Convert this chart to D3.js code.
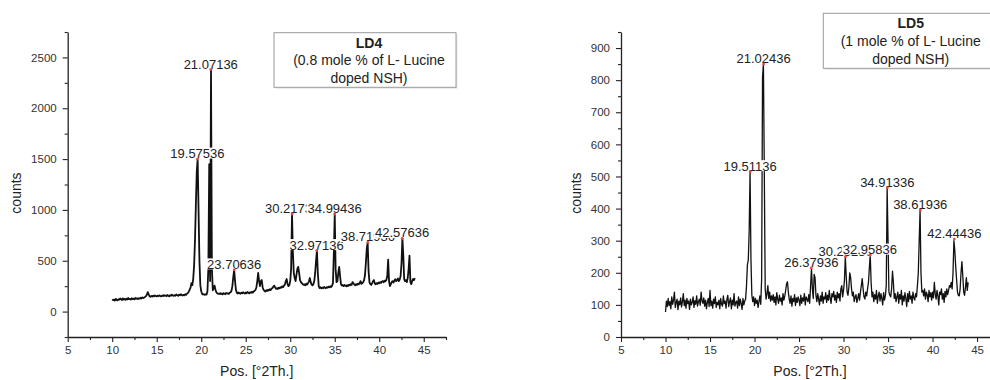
<!DOCTYPE html>
<html>
<head>
<meta charset="utf-8">
<script src="https://cdn.jsdelivr.net/npm/d3@7"></script>
<style>
  body { margin: 0; background: #fff; }
  svg { display: block; font-family: "Liberation Sans", Arial, sans-serif; }
</style>
</head>
<body>
<svg id="chart" width="990" height="380"></svg>
<script>
// scan grid (degrees 2theta), both samples were read on the same grid
const scanStart = 10.0;
const scanStep = 0.1;

// LD4 counts, 10.0 .. 44.0
const ld4Counts = [
  120,112,118,108,125,115,110,122,117,128,
  121,113,130,118,124,116,127,119,133,122,
  125,118,131,122,128,120,134,126,130,124,
  132,127,136,129,140,133,138,145,152,168,
  192,170,150,146,153,148,156,150,158,152,
  149,157,151,160,154,149,158,153,162,155,
  158,152,163,156,150,161,155,167,159,154,
  162,156,168,160,155,166,159,170,163,158,
  165,160,171,164,175,182,195,215,235,280,
  260,320,450,700,1050,1380,1500,1000,500,260,
  200,175,168,172,165,170,168,200,420,1450,
  300,2380,420,210,230,255,215,190,180,175,
  178,172,180,174,169,182,176,171,183,177,
  180,174,185,190,205,250,340,410,300,215,
  185,178,188,180,175,186,179,190,182,177,
  188,181,192,185,179,190,184,195,187,198,
  205,215,240,300,380,300,250,300,310,240,
  215,205,198,210,203,215,208,220,212,225,
  232,245,255,238,224,230,222,235,228,240,
  235,248,240,255,265,300,320,270,250,262,
  300,420,960,580,380,330,300,360,420,440,
  380,310,290,280,270,262,268,258,275,265,
  280,295,330,290,265,258,270,300,380,500,
  600,380,250,232,240,228,236,230,242,235,
  230,240,235,245,238,250,242,255,280,580,
  960,420,290,300,380,440,350,270,255,262,
  250,262,255,248,260,252,265,258,270,262,
  290,280,265,258,270,262,275,268,280,300,
  272,280,290,310,360,480,620,680,400,290,
  270,262,280,300,310,275,268,280,272,285,
  278,290,282,296,300,288,305,298,310,350,
  510,300,250,270,290,300,285,305,318,300,
  310,325,300,315,350,470,720,560,320,300,
  310,290,330,420,550,290,270,300,320,310,
  330
];

// LD5 counts, 10.0 .. 44.0
const ld5Counts = [
  78,112,95,120,98,110,88,125,102,115,
  140,92,108,118,85,112,100,122,94,110,
  135,98,115,90,120,104,112,86,118,100,
  108,125,92,113,102,128,96,110,118,99,
  140,112,105,122,96,115,88,108,120,95,
  145,98,112,90,118,104,125,92,108,100,
  115,88,120,102,96,128,104,112,90,118,
  130,95,110,122,88,115,100,135,96,108,
  112,90,125,98,118,104,86,120,100,112,
  118,160,225,240,330,515,240,130,110,125,
  98,120,105,115,92,110,128,102,180,810,
  850,510,150,118,135,160,120,140,112,128,
  115,132,108,125,100,138,118,105,130,112,
  122,100,135,115,128,145,165,172,140,118,
  105,128,96,120,110,132,98,122,108,125,
  115,98,130,105,122,112,135,100,125,118,
  110,132,105,160,215,150,120,195,185,130,
  110,135,118,100,128,112,140,105,125,118,
  138,108,130,115,145,120,105,135,125,142,
  115,130,108,140,122,135,112,150,160,125,
  145,175,250,190,140,130,155,200,185,150,
  128,140,110,125,132,108,120,135,115,140,
  160,182,150,125,118,140,128,150,170,215,
  255,170,125,140,110,132,118,145,105,128,
  140,112,135,120,100,138,115,128,160,465,
  300,140,130,125,150,205,170,120,135,110,
  125,140,105,132,118,145,100,128,112,138,
  120,95,135,110,142,118,128,105,140,122,
  115,135,125,160,200,300,395,200,140,145,
  128,150,118,140,132,110,145,125,138,115,
  140,122,170,135,118,145,128,100,140,132,
  150,118,135,108,142,125,150,132,145,160,
  155,170,150,200,300,270,220,180,140,130,
  128,150,200,235,190,140,130,155,185,145,
  170
];

// marked peaks
const ld4PeakPos = [21.07136, 19.57536, 23.70636, 30.21736, 32.97136, 34.99436, 38.71936, 42.57636];
const ld4PeakCounts = [2380, 1500, 410, 960, 600, 960, 680, 720];
const ld5PeakPos = [21.02436, 19.51136, 26.37936, 30.23236, 32.95836, 34.91336, 38.61936, 42.44436];
const ld5PeakCounts = [850, 515, 215, 250, 255, 465, 395, 305];

const xTicks = [5, 10, 15, 20, 25, 30, 35, 40, 45];
const ld4YTicks = [0, 500, 1000, 1500, 2000, 2500];
const ld5YTicks = [0, 100, 200, 300, 400, 500, 600, 700, 800, 900];

const ld4Legend = ['LD4', '(0.8 mole % of L- Lucine', 'doped NSH)'];
const ld5Legend = ['LD5', '(1 mole % of L- Lucine', 'doped NSH)'];

const svg = d3.select('#chart');

function drawPanel(opt) {
  const x = d3.scaleLinear().domain([5, 47.5]).range([opt.left, opt.left + 378.3]);
  const y = d3.scaleLinear().domain(opt.yDomain).range([337, 32]);
  const g = svg.append('g');

  // minor ticks
  const xMinor = d3.range(7.5, 48, 5);
  g.append('g')
    .attr('transform', 'translate(0,337)')
    .call(d3.axisBottom(x).tickValues(xMinor).tickSize(3).tickFormat(''))
    .call(a => a.select('.domain').remove());
  g.append('g')
    .attr('transform', 'translate(' + opt.left + ',0)')
    .call(d3.axisLeft(y).tickValues(opt.yMinor).tickSize(3).tickFormat(''))
    .call(a => a.select('.domain').remove());

  // X axis
  const xa = g.append('g')
    .attr('transform', 'translate(0,337)')
    .call(d3.axisBottom(x).tickValues(xTicks).tickSize(5).tickSizeOuter(0).tickPadding(4));
  xa.selectAll('text').style('font-size', '11.5px').attr('fill', '#333');

  // Y axis
  const ya = g.append('g')
    .attr('transform', 'translate(' + opt.left + ',0)')
    .call(d3.axisLeft(y).tickValues(opt.yTicks).tickFormat(d3.format('d'))
      .tickSize(5).tickSizeOuter(0).tickPadding(6));
  ya.selectAll('text').style('font-size', '11.5px').attr('fill', '#333');

  g.selectAll('.domain').attr('stroke', '#222').attr('stroke-width', 1.3);
  g.selectAll('.tick line').attr('stroke', '#222').attr('stroke-width', 1.1);

  // titles
  g.append('text')
    .attr('transform', 'translate(' + opt.titleX + ',193) rotate(-90)')
    .attr('text-anchor', 'middle')
    .attr('dominant-baseline', 'middle')
    .style('font-size', '14px')
    .attr('fill', '#222')
    .text('counts');
  g.append('text')
    .attr('x', opt.left + 189)
    .attr('y', 376)
    .attr('text-anchor', 'middle')
    .style('font-size', '14px')
    .attr('fill', '#222')
    .text('Pos. [°2Th.]');

  // scan line
  const line = d3.line()
    .x((d, i) => x(scanStart + i * scanStep))
    .y(d => y(d));
  g.append('path')
    .datum(opt.counts)
    .attr('d', line)
    .attr('fill', 'none')
    .attr('stroke', '#111')
    .attr('stroke-width', opt.lineWidth)
    .attr('stroke-linejoin', 'round');

  // peak labels, white boxes overlap each other in draw order (as in the scan software)
  opt.peakPos.forEach((p, i) => {
    const px = x(p), py = y(opt.peakCounts[i]);
    const lbl = g.append('g');
    const t = lbl.append('text')
      .attr('x', px)
      .attr('y', py - 1)
      .attr('text-anchor', 'middle')
      .style('font-size', '13px')
      .attr('fill', '#222')
      .text(p.toFixed(5));
    const w = t.node().getComputedTextLength();
    lbl.insert('rect', 'text')
      .attr('x', px - w / 2 - 1)
      .attr('y', py - 11.5)
      .attr('width', w + 2)
      .attr('height', 11)
      .attr('fill', '#fff');
  });
  g.selectAll('circle.peak')
    .data(opt.peakPos)
    .enter()
    .append('circle')
    .attr('cx', d => x(d))
    .attr('cy', (d, i) => y(opt.peakCounts[i]))
    .attr('r', 1.4)
    .attr('fill', '#e8473f');

  // legend box
  const lb = opt.legend;
  g.append('rect')
    .attr('x', lb.x + 1.5).attr('y', lb.y + 1.5)
    .attr('width', lb.w).attr('height', lb.h)
    .attr('fill', '#e6e6e6');
  g.append('rect')
    .attr('x', lb.x).attr('y', lb.y)
    .attr('width', lb.w).attr('height', lb.h)
    .attr('fill', '#fff')
    .attr('stroke', '#9a9a9a')
    .attr('stroke-width', 1);
  opt.legendText.forEach((s, i) => {
    g.append('text')
      .attr('x', lb.cx)
      .attr('y', lb.y + 15 + i * 17.7)
      .attr('text-anchor', 'middle')
      .style('font-size', '14px')
      .style('font-weight', i === 0 ? 'bold' : 'normal')
      .attr('fill', '#222')
      .text(s);
  });
}

drawPanel({
  left: 67.7,
  titleX: 17,
  yDomain: [-250, 2750],
  yTicks: ld4YTicks,
  yMinor: d3.range(-250, 2751, 500),
  counts: ld4Counts,
  lineWidth: 1.8,
  peakPos: ld4PeakPos,
  peakCounts: ld4PeakCounts,
  legend: { x: 274, y: 32.7, w: 182, h: 54.6, cx: 369 },
  legendText: ld4Legend
});

drawPanel({
  left: 621,
  titleX: 577,
  yDomain: [0, 950],
  yTicks: ld5YTicks,
  yMinor: d3.range(50, 951, 100),
  counts: ld5Counts,
  lineWidth: 1.3,
  peakPos: ld5PeakPos,
  peakCounts: ld5PeakCounts,
  legend: { x: 823.3, y: 13.3, w: 182, h: 55, cx: 910.7 },
  legendText: ld5Legend
});
</script>
</body>
</html>
